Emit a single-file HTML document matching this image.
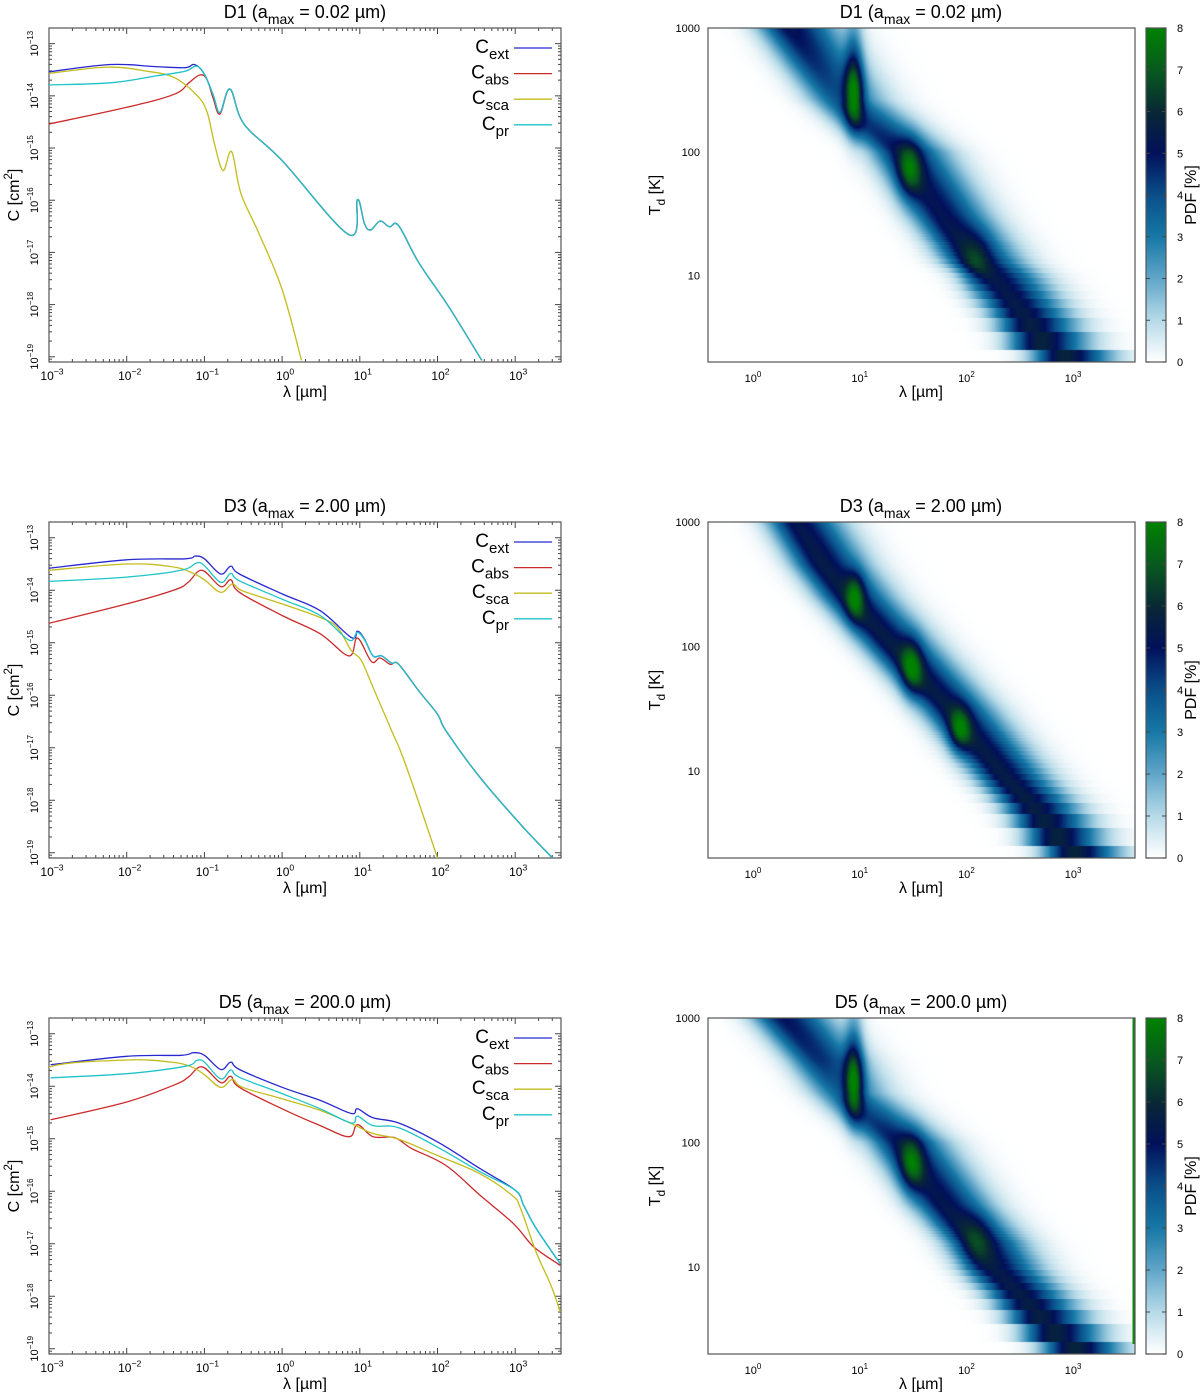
<!DOCTYPE html>
<html><head><meta charset="utf-8">
<style>
body{margin:0;background:#fff;}
#root{position:relative;width:1200px;height:1392px;overflow:hidden;background:#fff;font-family:"Liberation Sans",sans-serif;}
canvas{position:absolute;}
svg{position:absolute;left:0;top:0;}
</style></head>
<body>
<div id="root">
<canvas id="hm0" width="427" height="334" style="left:708px;top:28px"></canvas>
<canvas id="hm1" width="427" height="336" style="left:708px;top:522px"></canvas>
<canvas id="hm2" width="427" height="336" style="left:708px;top:1018px"></canvas>
<svg id="svg" width="1200" height="1392"></svg>
</div>
<script>
// ---------- cross-section data (log10 lambda [um], log10 C [cm^2]) ----------
const d1ExtLam=[-3,-2.21,-1.63,-1.25,-1.13,-1.01,-0.89,-0.80,-0.67,-0.49,0,0.86,0.97,1.06,1.14,1.26,1.38,1.50,1.76,2.14,2.57];
const d1ExtC=[-13.54,-13.40,-13.44,-13.46,-13.40,-13.56,-13.97,-14.32,-13.87,-14.54,-15.24,-16.66,-15.99,-16.45,-16.57,-16.40,-16.51,-16.49,-17.20,-18.03,-19.07];
const d1AbsLam=[-3,-2,-1.39,-1.20,-1.06,-0.97,-0.89,-0.80,-0.67,-0.49,0,0.86,0.97,1.06,1.14,1.26,1.38,1.50,1.76,2.14,2.57];
const d1AbsC=[-14.54,-14.22,-13.97,-13.75,-13.60,-13.68,-14.03,-14.35,-13.87,-14.54,-15.24,-16.66,-15.99,-16.45,-16.57,-16.40,-16.51,-16.49,-17.20,-18.03,-19.07];
const d1ScaLam=[-3,-2.25,-1.73,-1.39,-1.11,-0.97,-0.87,-0.76,-0.65,-0.53,-0.30,0,0.25];
const d1ScaC=[-13.57,-13.45,-13.53,-13.65,-13.97,-14.29,-14.92,-15.43,-15.07,-15.87,-16.63,-17.71,-19.07];
const d1PrLam=[-3,-2.21,-1.63,-1.25,-1.11,-1.01,-0.89,-0.80,-0.67,-0.49,0,0.86,0.97,1.06,1.14,1.26,1.38,1.50,1.76,2.14,2.57];
const d1PrC=[-13.79,-13.75,-13.62,-13.53,-13.43,-13.56,-13.97,-14.32,-13.87,-14.54,-15.24,-16.66,-15.99,-16.45,-16.57,-16.40,-16.51,-16.49,-17.20,-18.03,-19.07];

const d3ExtLam=[-3,-2,-1.25,-1.12,-1.0,-0.79,-0.66,-0.55,0,0.49,0.89,0.97,1.06,1.17,1.28,1.41,1.50,1.76,2.0,2.11,2.55,3.07,3.48];
const d3ExtC=[-13.58,-13.42,-13.40,-13.35,-13.40,-13.69,-13.54,-13.69,-14.07,-14.39,-14.90,-14.78,-14.93,-15.25,-15.25,-15.39,-15.41,-15.92,-16.36,-16.68,-17.57,-18.46,-19.10];
const d3AbsLam=[-3,-2,-1.38,-1.21,-1.03,-0.79,-0.66,-0.55,0,0.49,0.86,0.97,1.15,1.26,1.39,1.50,1.76,2.0,2.11,2.55,3.07,3.48];
const d3AbsC=[-14.63,-14.26,-13.99,-13.85,-13.62,-13.93,-13.80,-14.04,-14.48,-14.83,-15.25,-14.91,-15.36,-15.29,-15.41,-15.41,-15.92,-16.36,-16.68,-17.57,-18.46,-19.10];
const d3ScaLam=[-3,-2,-1.43,-1.17,-1.0,-0.79,-0.64,-0.51,0,0.49,0.71,0.89,1.02,1.19,1.41,1.59,2.0];
const d3ScaC=[-13.62,-13.50,-13.55,-13.66,-13.80,-14.04,-13.88,-14.01,-14.26,-14.52,-14.71,-15.15,-15.34,-15.92,-16.68,-17.32,-19.10];
const d3PrLam=[-3,-2,-1.30,-1.10,-1.0,-0.79,-0.66,-0.55,0,0.49,0.86,0.97,1.08,1.17,1.28,1.41,1.50,1.76,2.0,2.11,2.55,3.07,3.48];
const d3PrC=[-13.83,-13.75,-13.62,-13.48,-13.53,-13.85,-13.68,-13.82,-14.17,-14.48,-14.95,-14.80,-14.99,-15.25,-15.25,-15.39,-15.41,-15.92,-16.36,-16.68,-17.57,-18.46,-19.10];

const d5ExtLam=[-2.98,-2,-1.30,-1.14,-1.0,-0.79,-0.66,-0.55,0,0.49,0.89,0.97,1.17,1.50,2.0,2.55,3.0,3.11,3.27,3.58];
const d5ExtC=[-13.59,-13.43,-13.41,-13.36,-13.41,-13.68,-13.54,-13.68,-14.02,-14.27,-14.52,-14.43,-14.60,-14.70,-15.06,-15.57,-15.98,-16.27,-16.71,-17.38];
const d5AbsLam=[-2.98,-2,-1.38,-1.21,-1.03,-0.79,-0.66,-0.55,0,0.49,0.86,0.97,1.17,1.45,1.67,2.11,2.55,2.98,3.24,3.58];
const d5AbsC=[-14.64,-14.30,-13.97,-13.83,-13.63,-13.93,-13.81,-14.02,-14.43,-14.75,-14.96,-14.73,-14.96,-14.98,-15.19,-15.51,-16.08,-16.62,-17.06,-17.41];
const d5ScaLam=[-3,-2.98,-2,-1.43,-1.17,-1.0,-0.79,-0.64,-0.51,0,0.49,0.89,1.17,1.50,2.0,2.55,2.96,3.07,3.27,3.46,3.58];
const d5ScaC=[-14.05,-13.63,-13.50,-13.54,-13.63,-13.78,-14.02,-13.87,-14.02,-14.24,-14.46,-14.71,-14.90,-15.01,-15.32,-15.67,-16.08,-16.33,-17.16,-17.79,-18.30];
const d5PrLam=[-2.98,-2,-1.25,-1.10,-1.0,-0.79,-0.66,-0.55,0,0.49,0.89,0.97,1.17,1.50,2.0,2.55,3.0,3.11,3.27,3.58];
const d5PrC=[-13.84,-13.76,-13.62,-13.51,-13.54,-13.86,-13.69,-13.83,-14.14,-14.43,-14.70,-14.57,-14.75,-14.79,-15.16,-15.63,-15.98,-16.27,-16.71,-17.38];

// ---------- PDF heatmap data ----------
const d1RidgeT=[3.0,2.7,2.42,2.0,1.5,1.12,1.0,0.73,0.4,0.3];
const d1RidgeLam=[0.31,0.55,0.78,1.35,1.72,2.04,2.21,2.45,2.72,2.88];
const d1RidgePeak=[5.2,4.5,3.8,5.0,5.2,5.5,5.3,5.5,5.8,5.8];
const d1RidgeSig=[0.2,0.2,0.2,0.2,0.2,0.2,0.2,0.2,0.2,0.2];
const d1BlobLam=[0.91,0.91,1.43,2.05];
const d1BlobT=[2.48,2.85,1.86,1.12];
const d1BlobAmp=[4.5,1.5,3.0,1.2];
const d1BlobSigLam=[0.06,0.06,0.08,0.1];
const d1BlobSigT=[0.2,0.3,0.15,0.15];

const d3RidgeT=[3.0,2.655,2.4,1.99,1.5,0.99,0.70,0.35,0.3];
const d3RidgeLam=[0.37,0.62,0.85,1.28,1.80,2.28,2.59,2.93,2.97];
const d3RidgePeak=[5.3,5.5,5.5,5.5,5.5,5.5,5.6,5.8,5.8];
const d3RidgeSig=[0.19,0.19,0.19,0.19,0.19,0.19,0.19,0.19,0.19];
const d3BlobLam=[0.92,1.45,1.90];
const d3BlobT=[2.40,1.83,1.33];
const d3BlobAmp=[3.0,3.0,3.0];
const d3BlobSigLam=[0.06,0.07,0.07];
const d3BlobSigT=[0.13,0.15,0.12];

const d5RidgeT=[3.0,2.66,2.4,2.0,1.5,1.2,1.0,0.65,0.35,0.3];
const d5RidgeLam=[0.25,0.59,0.80,1.34,1.75,2.06,2.21,2.59,2.93,2.97];
const d5RidgePeak=[5.0,4.5,3.5,5.0,5.3,5.6,5.4,5.6,5.8,5.8];
const d5RidgeSig=[0.2,0.2,0.2,0.2,0.2,0.2,0.2,0.2,0.2,0.2];
const d5BlobLam=[0.91,0.91,1.45,2.06];
const d5BlobT=[2.48,2.85,1.83,1.2];
const d5BlobAmp=[4.5,1.5,3.0,1.2];
const d5BlobSigLam=[0.06,0.06,0.08,0.1];
const d5BlobSigT=[0.2,0.3,0.15,0.15];

const leftXTicks=[-3,-2,-1,0,1,2,3];
const leftYTicks=[-13,-14,-15,-16,-17,-18,-19];
const rightXTicks=[0,1,2,3];
const rightYTicks=[1000,100,10];
const cbTicks=[0,1,2,3,4,5,6,7,8];
const legendLabels=[["C","ext"],["C","abs"],["C","sca"],["C","pr"]];
const seriesColors=["#2828d0","#cc2a2a","#c4bc1c","#1ec4c8"];
const panelTitles=[["D1","0.02"],["D3","2.00"],["D5","200.0"]];

const cmapC=[[255,255,255],[182,218,232],[96,165,200],[22,120,166],[10,78,138],[2,16,90],[8,40,52],[8,90,30],[0,130,0]];

const NS="http://www.w3.org/2000/svg";
const svg=document.getElementById('svg');
function el(tag,attrs,parent){const e=document.createElementNS(NS,tag);for(const k in attrs)e.setAttribute(k,attrs[k]);(parent||svg).appendChild(e);return e;}

const rows=[{top:28,bot:362},{top:522,bot:858},{top:1018,bot:1354}];
const LX0=49,LX1=561,LLAM0=-3,LDEC=77.7;
const LCTOP=-12.7,LCBOT=-19.1;
const RX0=708,RX1=1135,RLAM0=757,RDEC=106.7;
const CB0=1146,CB1=1166;

function lx(l){return LX0+(l-LLAM0)*LDEC;}
function ly(c,r){return r.top+(LCTOP-c)/(LCTOP-LCBOT)*(r.bot-r.top);}
function rx(l){return RLAM0+l*RDEC;}
function ry(lt,r){return r.top+(3-lt)/(3-Math.log10(2))*(r.bot-r.top);}

function interp(xs,ys,x){
  if(x>=xs[0])return ys[0];
  if(x<=xs[xs.length-1])return ys[ys.length-1];
  for(let i=0;i<xs.length-1;i++){if(x<=xs[i]&&x>=xs[i+1]){const t=(xs[i]-x)/(xs[i]-xs[i+1]);return ys[i]+t*(ys[i+1]-ys[i]);}}
  return ys[0];
}
function cmap(v){
  v=Math.max(0,Math.min(8,v));const i=Math.min(7,Math.floor(v));const t=v-i;
  const a=cmapC[i],b=cmapC[i+1];
  return [a[0]+(b[0]-a[0])*t,a[1]+(b[1]-a[1])*t,a[2]+(b[2]-a[2])*t];
}
function sup(textEl,base,s,fs){textEl.appendChild(document.createTextNode(base));const t=el('tspan',{dy:-fs*0.45,'font-size':fs*0.72},textEl);t.textContent=s;}
function smoothPath(P){
  let d='M'+P[0][0].toFixed(1)+','+P[0][1].toFixed(1);
  const k=0.18;
  for(let i=0;i<P.length-1;i++){
    const p0=P[Math.max(0,i-1)],p1=P[i],p2=P[i+1],p3=P[Math.min(P.length-1,i+2)];
    const c1=[p1[0]+(p2[0]-p0[0])*k,p1[1]+(p2[1]-p0[1])*k];
    const c2=[p2[0]-(p3[0]-p1[0])*k,p2[1]-(p3[1]-p1[1])*k];
    d+=' C'+c1[0].toFixed(1)+','+c1[1].toFixed(1)+' '+c2[0].toFixed(1)+','+c2[1].toFixed(1)+' '+p2[0].toFixed(1)+','+p2[1].toFixed(1);
  }
  return d;
}

const series=[
 [[d1ExtLam,d1ExtC],[d1AbsLam,d1AbsC],[d1ScaLam,d1ScaC],[d1PrLam,d1PrC]],
 [[d3ExtLam,d3ExtC],[d3AbsLam,d3AbsC],[d3ScaLam,d3ScaC],[d3PrLam,d3PrC]],
 [[d5ExtLam,d5ExtC],[d5AbsLam,d5AbsC],[d5ScaLam,d5ScaC],[d5PrLam,d5PrC]]];
const ridges=[
 [d1RidgeT,d1RidgeLam,d1RidgePeak,d1RidgeSig,d1BlobLam,d1BlobT,d1BlobAmp,d1BlobSigLam,d1BlobSigT],
 [d3RidgeT,d3RidgeLam,d3RidgePeak,d3RidgeSig,d3BlobLam,d3BlobT,d3BlobAmp,d3BlobSigLam,d3BlobSigT],
 [d5RidgeT,d5RidgeLam,d5RidgePeak,d5RidgeSig,d5BlobLam,d5BlobT,d5BlobAmp,d5BlobSigLam,d5BlobSigT]];
const names=["d1","d3","d5"];
const serNames=["ext","abs","sca","pr"];

const defs=el('defs',{});
const grad=el('linearGradient',{id:'cbgrad',x1:0,y1:1,x2:0,y2:0},defs);
for(let i=0;i<=32;i++){const v=i/4;const c=cmap(v);el('stop',{offset:(i/32),'stop-color':`rgb(${c.map(Math.round).join(',')})`},grad);}

rows.forEach((r,p)=>{
  const nm=names[p];
  const h=r.bot-r.top;
  const gL=el('g',{});
  
  
  const cp=el('clipPath',{id:'clip'+p},defs);
  el('rect',{x:LX0,y:r.top,width:LX1-LX0,height:h},cp);
  const gt=el('g',{stroke:'#444','stroke-width':1},gL);
  for(let d=-3;d<=3;d++){for(let m=1;m<10;m++){const l=d+Math.log10(m);if(l>3.59)break;const x=lx(l);const len=m===1?6:3;
    el('line',{x1:x,y1:r.bot,x2:x,y2:r.bot-len},gt);el('line',{x1:x,y1:r.top,x2:x,y2:r.top+len},gt);}}
  for(let d=-20;d<=-13;d++){for(let m=1;m<10;m++){const c=d+Math.log10(m);if(c>LCTOP||c<LCBOT)continue;const y=ly(c,r);const len=m===1?6:3;
    el('line',{x1:LX0,y1:y,x2:LX0+len,y2:y},gt);el('line',{x1:LX1,y1:y,x2:LX1-len,y2:y},gt);}}
  el('rect',{x:LX0,y:r.top,width:LX1-LX0,height:h,fill:'none',stroke:'#555','stroke-width':1.2},gL);
  const gc=el('g',{'clip-path':`url(#clip${p})`,fill:'none','stroke-width':1.3},gL);
  series[p].forEach((s,si)=>{
    const P=s[0].map((l,i)=>[lx(l),ly(s[1][i],r)]);
    const pl=el('path',{d:smoothPath(P),stroke:seriesColors[si],'stroke-linejoin':'round'},gc);
    
    
  });
  legendLabels.forEach((lb,i)=>{
    const y=r.top+20+i*25.6;
    const g=el('g',{},gL);
    
    
    const t=el('text',{x:509,y:y+5,'text-anchor':'end','font-size':19,fill:'#000'},g);
    t.appendChild(document.createTextNode(lb[0]));
    const ts=el('tspan',{dy:6,'font-size':15},t);ts.textContent=lb[1];
    el('line',{x1:514,y1:y,x2:552,y2:y,stroke:seriesColors[i],'stroke-width':1.3},g);
  });
  leftXTicks.forEach(d=>{const t=el('text',{x:lx(d)+3,y:r.bot+18,'text-anchor':'middle','font-size':12,fill:'#000'},gL);
    
    sup(t,'10',d<0?'\u2212'+(-d):String(d),12);});
  leftYTicks.forEach(d=>{const y=ly(d,r);const t=el('text',{transform:`translate(38,${y}) rotate(-90)`,'text-anchor':'middle','font-size':11,fill:'#000'},gL);
    
    sup(t,'10','\u2212'+(-d),11);});
  const xl=el('text',{x:305,y:r.bot+35,'text-anchor':'middle','font-size':16,fill:'#000'},gL);
  xl.textContent='\u03bb [\u00b5m]';
  
  const yl=el('text',{transform:`translate(19,${(r.top+r.bot)/2}) rotate(-90)`,'text-anchor':'middle','font-size':16,fill:'#000'},gL);
  
  sup(yl,'C [cm','2',16);const tz=el('tspan',{dy:16*0.45},yl);tz.textContent=']';
  [305,921].forEach((cx,k)=>{
    const t=el('text',{x:cx,y:r.top-10,'text-anchor':'middle','font-size':18,fill:'#000'});
    
    t.appendChild(document.createTextNode(panelTitles[p][0]+' (a'));
    const s=el('tspan',{dy:6,'font-size':14},t);s.textContent='max';
    const s2=el('tspan',{dy:-6},t);s2.textContent=' = '+panelTitles[p][1]+' \u00b5m)';
  });

  const R=ridges[p];
  const cv=document.getElementById('hm'+p);const ctx=cv.getContext('2d');
  const W=cv.width,H=cv.height;const img=ctx.createImageData(W,H);
  for(let j=0;j<H;j++){
    const y=r.top+j+0.5;
    const lt=3-(y-r.top)/(r.bot-r.top)*(3-Math.log10(2));
    let T=Math.pow(10,lt);let ltq=lt;
    if(T<22){T=Math.max(2,Math.round(T));ltq=Math.log10(T);}
    const c=interp(R[0],R[1],ltq),pk=interp(R[0],R[2],ltq),sg=interp(R[0],R[3],ltq);
    for(let i=0;i<W;i++){
      const L=(RX0+i+0.5-RLAM0)/RDEC;
      const d=L-c;const s=d<0?sg:sg*1.45;
      let v=pk*Math.exp(-0.5*(d/s)*(d/s));
      for(let b=0;b<R[4].length;b++){const a=(L-R[4][b])/R[7][b],e=(lt-R[5][b])/R[8][b];v+=R[6][b]*Math.exp(-0.5*(a*a+e*e));}
      const col=cmap(v);const k=(j*W+i)*4;
      img.data[k]=col[0];img.data[k+1]=col[1];img.data[k+2]=col[2];img.data[k+3]=255;
    }
  }
  ctx.putImageData(img,0,0);
  const gR=el('g',{});
  
  
  if(p===2){el('line',{x1:RX1-1.5,y1:r.top,x2:RX1-1.5,y2:r.bot-10,stroke:'#0a8a0a','stroke-width':2},gR);}
  el('rect',{x:RX0,y:r.top,width:RX1-RX0,height:h,fill:'none',stroke:'#555','stroke-width':1.2},gR);
  rightXTicks.forEach(d=>{const t=el('text',{x:rx(d)-4,y:r.bot+20,'text-anchor':'middle','font-size':11,fill:'#000'},gR);
    sup(t,'10',String(d),11);});
  rightYTicks.forEach(v=>{const t=el('text',{x:700,y:ry(Math.log10(v),r)+4,'text-anchor':'end','font-size':11,fill:'#000'},gR);
    t.textContent=String(v);});
  const rxl=el('text',{x:921,y:r.bot+35,'text-anchor':'middle','font-size':16,fill:'#000'},gR);
  rxl.textContent='\u03bb [\u00b5m]';
  
  const ryl=el('text',{transform:`translate(660,${(r.top+r.bot)/2}) rotate(-90)`,'text-anchor':'middle','font-size':16,fill:'#000'},gR);
  
  ryl.appendChild(document.createTextNode('T'));const td=el('tspan',{dy:5,'font-size':12},ryl);td.textContent='d';
  const tk=el('tspan',{dy:-5},ryl);tk.textContent=' [K]';
  const cb=el('g',{},gR);
  
  el('rect',{x:CB0,y:r.top,width:CB1-CB0,height:h,fill:'url(#cbgrad)',stroke:'#555','stroke-width':1.2},cb);
  cbTicks.forEach(v=>{const y=r.bot-v/8*h;
    el('line',{x1:CB0,y1:y,x2:CB0+4,y2:y,stroke:'#444'},cb);el('line',{x1:CB1,y1:y,x2:CB1-4,y2:y,stroke:'#444'},cb);
    const t=el('text',{x:1177,y:y+4,'font-size':11,fill:'#000'},cb);t.textContent=String(v);
    });
  const pl=el('text',{transform:`translate(1196,${(r.top+r.bot)/2}) rotate(-90)`,'text-anchor':'middle','font-size':16,fill:'#000'},cb);
  pl.textContent='PDF [%]';
  
});
</script>
</body></html>
